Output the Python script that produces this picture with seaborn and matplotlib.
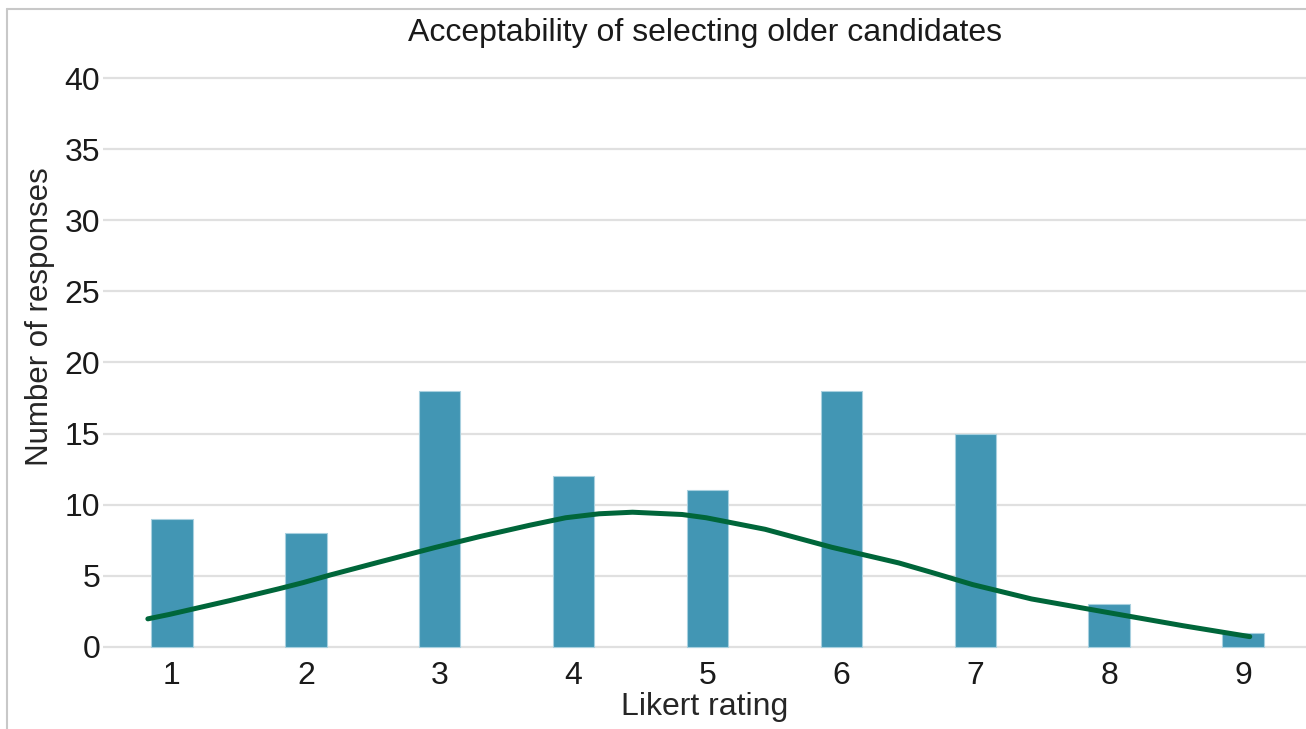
import numpy as np
import pandas as pd
import matplotlib
matplotlib.use('Agg')
import matplotlib.pyplot as plt
import seaborn as sns
from matplotlib.lines import Line2D

# bar data
ratings = [1, 2, 3, 4, 5, 6, 7, 8, 9]
responses = [9, 8, 18, 12, 11, 18, 15, 3, 1]

# fitted curve, points
curve_x = [0.82, 0.98, 1.43, 1.80, 1.98, 2.18, 2.55, 2.97, 3.30, 3.67, 3.94, 4.19,
           4.44, 4.81, 4.99, 5.43, 5.93, 6.43, 6.68, 6.98, 7.42, 7.97, 8.55, 9.05]
curve_y = [1.97, 2.28, 3.25, 4.09, 4.52, 5.05, 5.97, 7.0, 7.76, 8.55, 9.08, 9.36,
           9.47, 9.31, 9.08, 8.27, 7.0, 5.9, 5.22, 4.38, 3.37, 2.45, 1.49, 0.72]

y_ticks = [0, 5, 10, 15, 20, 25, 30, 35, 40]

bars = pd.DataFrame({'rating': ratings, 'responses': responses})
curve = pd.DataFrame({'x': curve_x, 'y': curve_y})

sns.set_style('white')
plt.rcParams['font.family'] = ['Liberation Sans', 'DejaVu Sans']
plt.rcParams['text.color'] = '#1a1a1a'

fig = plt.figure(figsize=(13.06, 7.29), dpi=100)
ax = fig.add_axes([103 / 1306, 80 / 729, 1203 / 1306, 573 / 729])

sns.barplot(data=bars, x='rating', y='responses', native_scale=True, width=0.31,
            color='#4296b4', saturation=1, edgecolor='#a8d0df', linewidth=0.8, ax=ax)
sns.lineplot(data=curve, x='x', y='y', color='#00663a', linewidth=3.6, ax=ax)

ax.set_xlim(0.485, 9.47)
ax.set_ylim(-0.15, 40.15)
ax.set_xticks(ratings)
ax.set_yticks(y_ticks)
ax.yaxis.grid(True, color='#e0e0e0', linewidth=1.6)
ax.xaxis.grid(False)
ax.set_axisbelow(True)
for s in ax.spines.values():
    s.set_visible(False)
ax.tick_params(axis='both', length=0, labelsize=23, colors='#1a1a1a')
ax.tick_params(axis='y', pad=2)
ax.tick_params(axis='x', pad=9)

ax.set_title('Acceptability of selecting older candidates', fontsize=23, pad=25)
ax.set_xlabel('Likert rating', fontsize=23, labelpad=0)
ax.set_ylabel('Number of responses', fontsize=22.5)
ax.yaxis.set_label_coords(-0.04, 0.58)

# partial outer frame
fig.add_artist(Line2D([7 / 1306, 7 / 1306], [0, 1 - 9 / 729], transform=fig.transFigure,
                      color='#c8c8c8', linewidth=1.5))
fig.add_artist(Line2D([7 / 1306, 1], [1 - 9 / 729, 1 - 9 / 729], transform=fig.transFigure,
                      color='#c8c8c8', linewidth=1.5))

fig.savefig('out.png', dpi=100)
